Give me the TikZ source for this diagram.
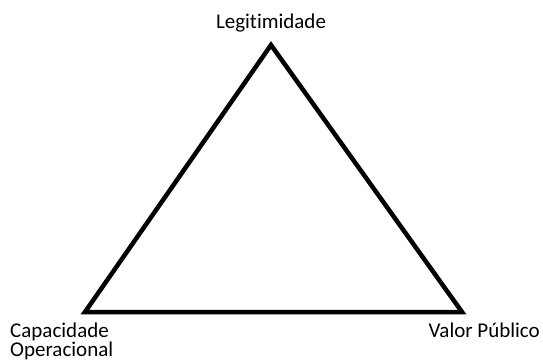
\documentclass[tikz,border=0pt]{standalone}
\usepackage{fontspec}
\setmainfont[Ligatures=NoCommon]{Carlito}
\usetikzlibrary{positioning}

\begin{document}
\begin{tikzpicture}[x=1pt, y=-1pt, font=\fontsize{21}{23}\selectfont, lbl/.style={inner sep=0pt, align=left}]
\useasboundingbox (0,0) rectangle (543,360);
% vertices of the triangle
\coordinate (top) at (271,45);
\coordinate (left) at (85,312);
\coordinate (right) at (462,312);
\draw[line width=4.5pt, line join=miter] (top) -- (right) -- (left) -- cycle;
% labels
\node[lbl, anchor=base] (leg) at (271,28) {Legitimidade};
\node[lbl, anchor=base west] (cap) at (10,337) {Capacidade};
\node[lbl, anchor=base west] (ope) at (10,356) {Operacional};
\node[lbl, anchor=base east] (val) at (540,337) {Valor Público};
\end{tikzpicture}
\end{document}
